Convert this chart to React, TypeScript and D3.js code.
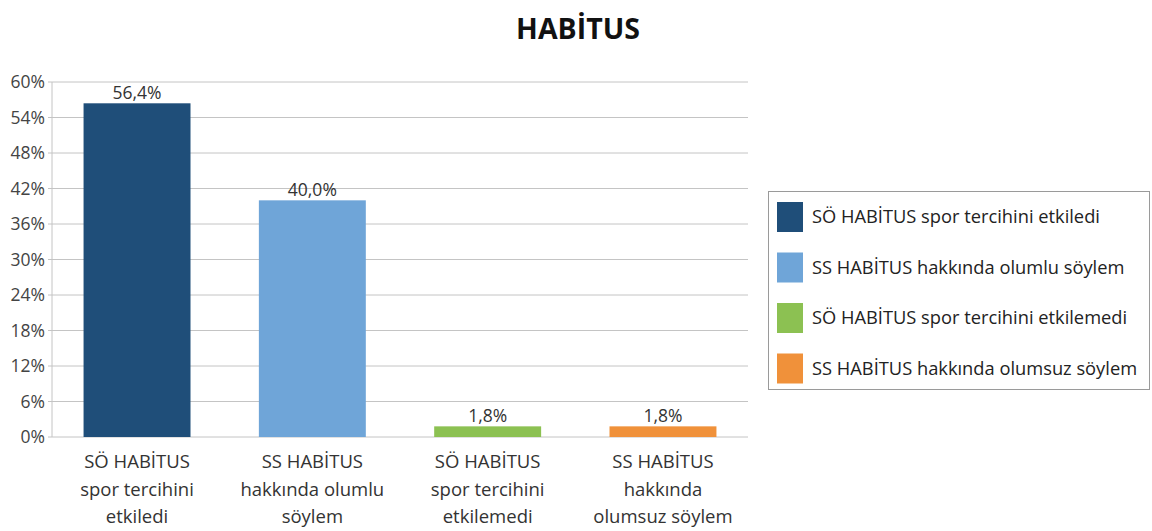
import React, { useEffect, useRef } from 'react';
import * as d3 from 'd3';

const categories = [
  ['SÖ HABİTUS', 'spor tercihini', 'etkiledi'],
  ['SS HABİTUS', 'hakkında olumlu', 'söylem'],
  ['SÖ HABİTUS', 'spor tercihini', 'etkilemedi'],
  ['SS HABİTUS', 'hakkında', 'olumsuz söylem'],
];
const legendLabels = [
  'SÖ HABİTUS spor tercihini etkiledi',
  'SS HABİTUS hakkında olumlu söylem',
  'SÖ HABİTUS spor tercihini etkilemedi',
  'SS HABİTUS hakkında olumsuz söylem',
];
const values = [56.4, 40.0, 1.8, 1.8];
const valueLabels = ['56,4%', '40,0%', '1,8%', '1,8%'];
const yTicks = [0, 6, 12, 18, 24, 30, 36, 42, 48, 54, 60];
const colors = ['#1f4e79', '#6fa5d8', '#8cc152', '#f0913a'];

const W = 1152;
const H = 531;
const FONT = '"Open Sans", sans-serif';

const App: React.FC = () => {
  const svgRef = useRef<SVGSVGElement>(null);

  useEffect(() => {
    if (!svgRef.current) return;
    const svg = d3.select(svgRef.current);
    svg.selectAll('*').remove();

    const left = 52, right = 748, top = 82, bottom = 437;

    const x = d3.scaleBand<number>()
      .domain(values.map((_d, i) => i))
      .range([left, right])
      .paddingInner(0.39)
      .paddingOuter(0.18);
    const y = d3.scaleLinear().domain([0, 60]).range([bottom, top]);

    // title
    svg.append('text')
      .attr('x', 578)
      .attr('y', 39)
      .attr('text-anchor', 'middle')
      .attr('font-family', FONT)
      .attr('font-weight', 700)
      .attr('font-size', 28.5)
      .attr('fill', '#111')
      .text('HABİTUS');

    // grid
    svg.append('g')
      .selectAll('line')
      .data(yTicks)
      .enter()
      .append('line')
      .attr('x1', left - 4)
      .attr('x2', right)
      .attr('y1', d => y(d))
      .attr('y2', d => y(d))
      .attr('stroke', '#c4c4c4')
      .attr('stroke-width', 1);

    svg.append('line')
      .attr('x1', left).attr('x2', left)
      .attr('y1', top).attr('y2', bottom)
      .attr('stroke', '#c4c4c4');

    svg.append('g')
      .selectAll('text')
      .data(yTicks)
      .enter()
      .append('text')
      .attr('x', 45)
      .attr('y', d => y(d))
      .attr('dy', '0.35em')
      .attr('text-anchor', 'end')
      .attr('font-family', FONT)
      .attr('font-size', 17.5)
      .attr('fill', '#444')
      .text(d => `${d}%`);

    // bars
    svg.append('g')
      .selectAll('rect')
      .data(values)
      .enter()
      .append('rect')
      .attr('x', (_d, i) => x(i)!)
      .attr('y', d => y(d))
      .attr('width', x.bandwidth())
      .attr('height', d => bottom - y(d))
      .attr('fill', (_d, i) => colors[i]);

    // value labels
    svg.append('g')
      .selectAll('text')
      .data(values)
      .enter()
      .append('text')
      .attr('x', (_d, i) => x(i)! + x.bandwidth() / 2)
      .attr('y', d => y(d) - 4)
      .attr('text-anchor', 'middle')
      .attr('font-family', FONT)
      .attr('font-size', 17.5)
      .attr('fill', '#333')
      .text((_d, i) => valueLabels[i]);

    // category labels
    const cat = svg.append('g')
      .selectAll('text')
      .data(categories)
      .enter()
      .append('text')
      .attr('text-anchor', 'middle')
      .attr('font-family', FONT)
      .attr('font-size', 18.5)
      .attr('fill', '#333');
    cat.each(function (lines, i) {
      const t = d3.select(this);
      lines.forEach((ln, j) => {
        t.append('tspan')
          .attr('x', x(i)! + x.bandwidth() / 2)
          .attr('y', 468 + j * 27.5)
          .text(ln);
      });
    });

    // legend
    const lg = svg.append('g');
    lg.append('rect')
      .attr('x', 768.5).attr('y', 191.5)
      .attr('width', 381).attr('height', 198)
      .attr('fill', '#fff')
      .attr('stroke', '#9a9a9a');
    const rows = lg.selectAll('g.row')
      .data(legendLabels)
      .enter()
      .append('g')
      .attr('class', 'row')
      .attr('transform', (_d, i) => `translate(777, ${202 + i * 50.5})`);
    rows.append('rect')
      .attr('width', 26)
      .attr('height', 30)
      .attr('fill', (_d, i) => colors[i]);
    rows.append('text')
      .attr('x', 35)
      .attr('y', 15)
      .attr('dy', '0.35em')
      .attr('font-family', FONT)
      .attr('font-size', 18.3)
      .attr('fill', '#222')
      .text(d => d);
  }, []);

  return <svg ref={svgRef} width={W} height={H} style={{ position: 'absolute', left: 0, top: 0 }} />;
};

export default App;
